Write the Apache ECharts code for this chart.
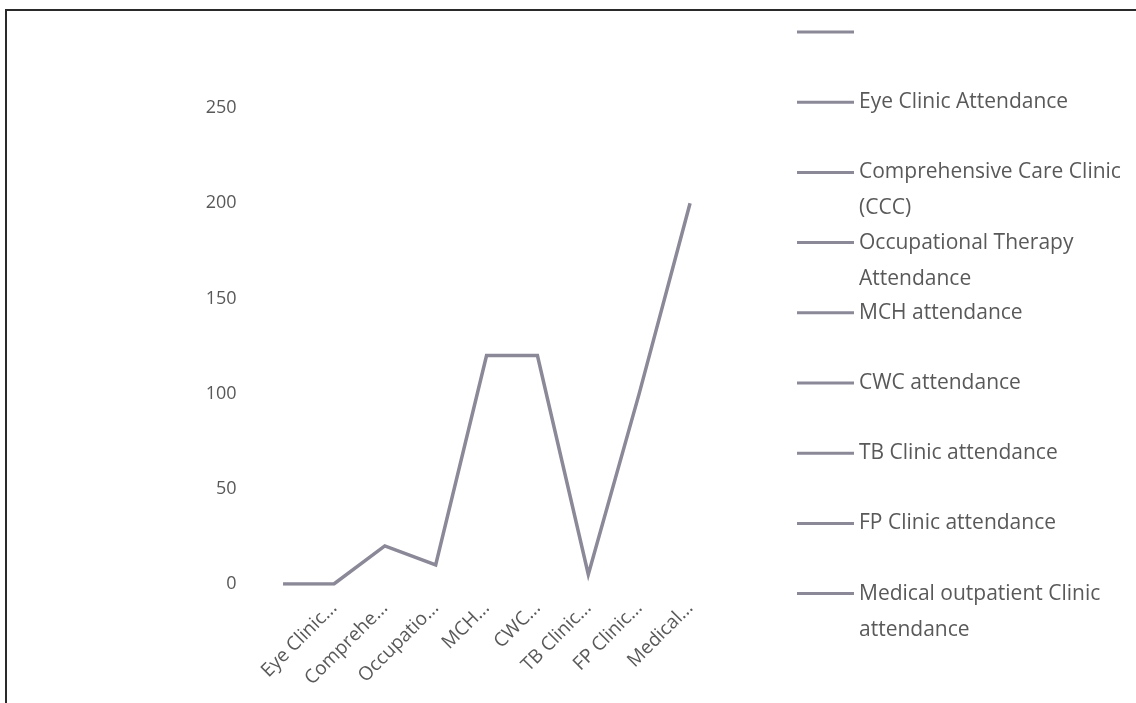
<!DOCTYPE html>
<html>
<head>
<meta charset="utf-8">
<script src="https://cdn.jsdelivr.net/npm/echarts@6/dist/echarts.min.js"></script>
<style>
html,body{margin:0;padding:0;background:#fff;}
#chart{width:1136px;height:703px;}
</style>
</head>
<body>
<div id="chart"></div>
<script>
const categories = ["", "Eye Clinic Attendance", "Comprehensive Care Clinic (CCC)", "Occupational Therapy Attendance", "MCH attendance", "CWC attendance", "TB Clinic attendance", "FP Clinic attendance", "Medical outpatient Clinic attendance"];
const tickLabels = ["", "Eye Clinic...", "Comprehe...", "Occupatio...", "MCH...", "CWC...", "TB Clinic...", "FP Clinic...", "Medical..."];
const values = [0, 0, 20, 10, 120, 120, 5, 100, 200];
const yTicks = [0, 50, 100, 150, 200, 250];

const LINE_COLOR = '#8b8898';
const TEXT_COLOR = '#595959';
const FONT = "'Open Sans', sans-serif";
const LEGEND_FONT_SIZE = 21;
const LEGEND_WIDTH = 268;

const chart = echarts.init(document.getElementById('chart'));

const ctx = document.createElement('canvas').getContext('2d');
ctx.font = LEGEND_FONT_SIZE + "px 'Open Sans'";

const legendName = n => n === "" ? " " : n;

const legends = categories.map((c, i) => {
  const name = legendName(c);
  const wraps = ctx.measureText(name).width > LEGEND_WIDTH;
  const center = 32 + i * 70.2;
  return {
    show: true,
    orient: 'vertical',
    left: 797,
    top: center - (wraps ? 54 : 18),
    padding: 0,
    itemWidth: 57,
    itemHeight: 3,
    icon: 'rect',
    selectedMode: false,
    data: [{ name: name, icon: 'rect', itemStyle: { color: LINE_COLOR } }],
    formatter: n => wraps ? '\u00a0\n' + n : n,
    textStyle: {
      color: TEXT_COLOR,
      fontFamily: FONT,
      fontSize: LEGEND_FONT_SIZE,
      lineHeight: 36,
      width: LEGEND_WIDTH,
      overflow: 'break'
    }
  };
});

const dummySeries = categories.map(c => ({
  name: legendName(c),
  type: 'line',
  data: [],
  color: LINE_COLOR,
  showSymbol: false
}));

chart.setOption({
  animation: false,
  backgroundColor: '#ffffff',
  legend: legends,
  grid: { left: 257.6, right: 420.5, top: 108, bottom: 119 },
  xAxis: {
    type: 'category',
    data: categories,
    boundaryGap: true,
    axisLine: { show: false },
    axisTick: { show: false },
    axisLabel: {
      interval: 0,
      rotate: 45,
      margin: 21,
      color: TEXT_COLOR,
      fontFamily: FONT,
      fontSize: 19,
      formatter: (v, idx) => tickLabels[idx]
    }
  },
  yAxis: {
    type: 'value',
    min: yTicks[0],
    max: yTicks[yTicks.length - 1],
    interval: 50,
    axisLine: { show: false },
    axisTick: { show: false },
    splitLine: { show: false },
    axisLabel: {
      margin: 21,
      color: TEXT_COLOR,
      fontFamily: FONT,
      fontSize: 18
    }
  },
  series: [{
    name: '__main__',
    type: 'line',
    data: values,
    showSymbol: false,
    symbol: 'none',
    lineStyle: { color: LINE_COLOR, width: 3.5, join: 'miter' },
    color: LINE_COLOR
  }].concat(dummySeries),
  graphic: [{
    type: 'polyline',
    shape: { points: [[6, 703], [6, 10], [1136, 10]] },
    style: { stroke: '#2a2a2a', lineWidth: 2, fill: null }
  }]
});
</script>
</body>
</html>
